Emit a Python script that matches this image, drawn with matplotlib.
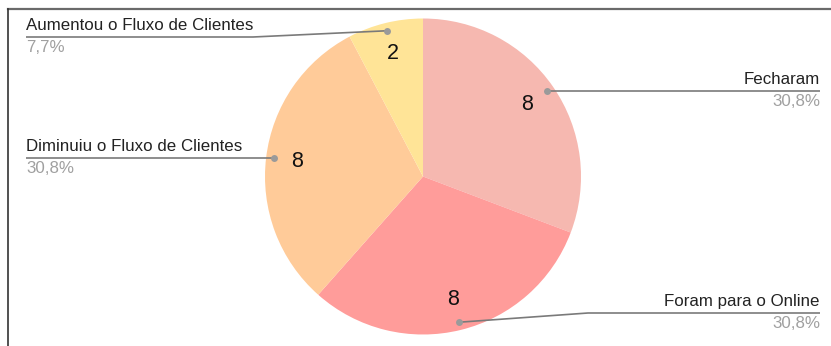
import numpy as np
import matplotlib
matplotlib.use("Agg")
import matplotlib.pyplot as plt

plt.rcParams['font.family'] = ['Liberation Sans', 'DejaVu Sans']

# Data
categories = ["Fecharam", "Foram para o Online", "Diminuiu o Fluxo de Clientes", "Aumentou o Fluxo de Clientes"]
values = [8, 8, 8, 2]
colors = ["#F6B8B0", "#FF9C9A", "#FFCB99", "#FFE497"]

W, H = 831, 346
fig = plt.figure(figsize=(W / 100, H / 100), dpi=100)
ax = fig.add_axes([0, 0, 1, 1])

cx, cy, R = 423, H - 176.5, 158
wedges, texts = ax.pie(values, colors=colors, startangle=90, counterclock=False,
                       center=(cx, cy), radius=R, labels=[str(v) for v in values],
                       labeldistance=0.8, wedgeprops=dict(linewidth=0),
                       textprops=dict(fontsize=15.5, color="#111111"))
for t in texts:
    t.set_ha("center")
    t.set_va("center")

ax.set_xlim(0, W)
ax.set_ylim(0, H)
ax.set_aspect("equal")
ax.axis("off")

total = sum(values)
pcts = [f"{100 * v / total:.1f}%".replace(".", ",") for v in values]

# Leader-label layout: (side, line y in pixels from top, knee x)
layout = [
    ("right", 91, None),
    ("right", 313, 588),
    ("left", 157, None),
    ("left", 37, 253),
]
line_col = "#7a7a7a"
for w, name, pct, (side, ly, knee) in zip(wedges, categories, pcts, layout):
    ang = np.deg2rad((w.theta1 + w.theta2) / 2)
    dx, dy = cx + 0.95 * R * np.cos(ang), cy + 0.95 * R * np.sin(ang)
    ly = H - ly
    x_end = 820 if side == "right" else 26
    xs = [dx] + ([knee] if knee else []) + [x_end]
    ys = [dy] + ([ly] if knee else []) + [ly if knee else dy]
    yline = ys[-1]
    ax.plot(xs, ys, color=line_col, lw=1.2, solid_capstyle="butt")
    ax.plot([dx], [dy], "o", ms=5, color="#9a9a9a", mec="none")
    ax.text(x_end, yline + 4, name, ha=side, va="bottom", fontsize=12.2, color="#222222")
    ax.text(x_end, yline - 3, pct, ha=side, va="top", fontsize=12.2, color="#a0a0a0")

# Frame edges
ax.plot([8, W], [H - 9, H - 9], color="#6a6a6a", lw=1.6)
ax.plot([8, 8], [H - 9, 0], color="#333333", lw=1.2)

fig.savefig("out.png", dpi=100)
